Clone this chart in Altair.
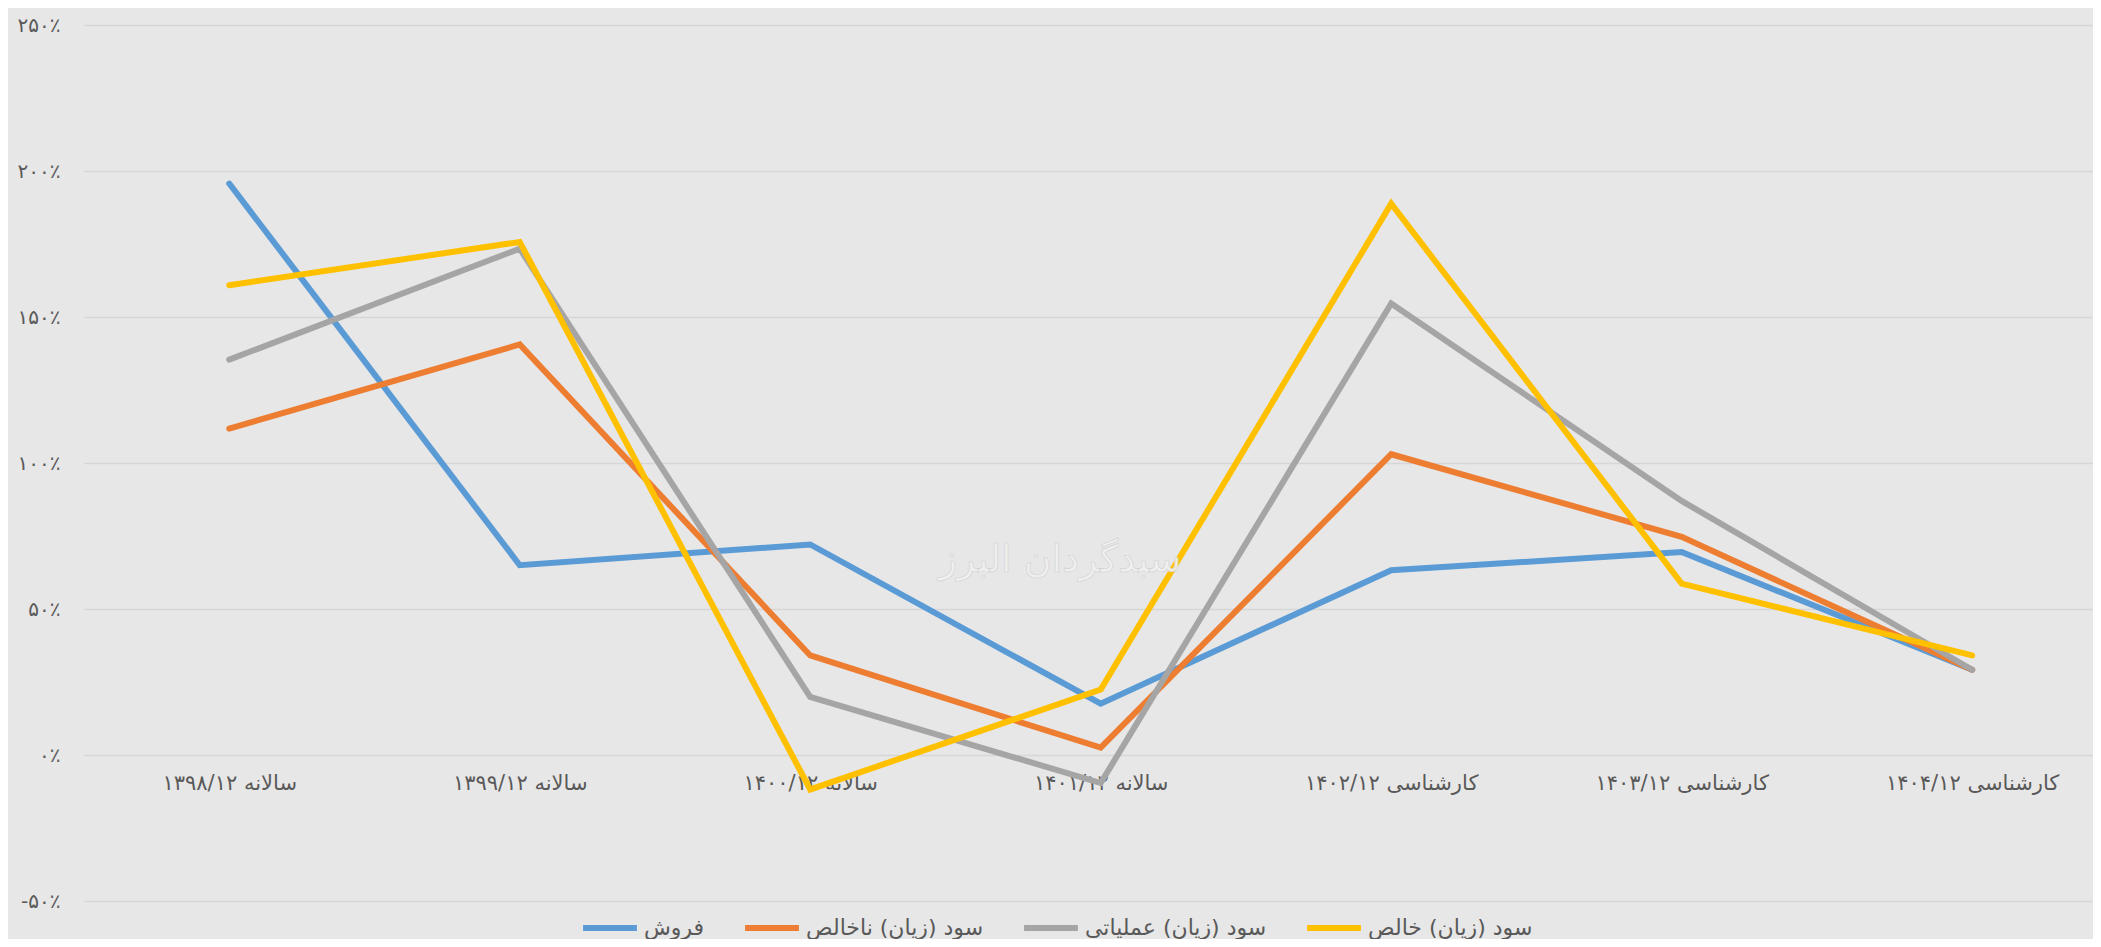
import altair as alt
import pandas as pd

categories = [
    "سالانه ۱۳۹۸/۱۲",
    "سالانه ۱۳۹۹/۱۲",
    "سالانه ۱۴۰۰/۱۲",
    "سالانه ۱۴۰۱/۱۲",
    "کارشناسی ۱۴۰۲/۱۲",
    "کارشناسی ۱۴۰۳/۱۲",
    "کارشناسی ۱۴۰۴/۱۲",
]
series_names = ["فروش", "سود (زیان) ناخالص", "سود (زیان) عملیاتی", "سود (زیان) خالص"]
series_colors = ["#5B9BD5", "#ED7D31", "#A5A5A5", "#FFC000"]

sales = [195.7, 65.0, 72.1, 17.6, 63.3, 69.5, 29.2]
gross_profit = [111.8, 140.6, 34.1, 2.5, 103.0, 74.7, 29.2]
operating_profit = [135.4, 173.4, 19.9, -9.6, 154.6, 87.0, 29.2]
net_profit = [160.9, 175.7, -11.8, 22.4, 188.8, 58.7, 34.1]

y_tick_values = [-50, 0, 50, 100, 150, 200, 250]
y_tick_labels = ["-۵۰٪", "۰٪", "۵۰٪", "۱۰۰٪", "۱۵۰٪", "۲۰۰٪", "۲۵۰٪"]

watermark_text = "سبدگردان البرز"
watermark_pos = (2.86, 66.5)

FONT = "DejaVu Sans"
TEXT_COLOR = "#595959"

rows = []
for name, vals in zip(series_names, [sales, gross_profit, operating_profit, net_profit]):
    for i, v in enumerate(vals):
        rows.append({"idx": i, "category": categories[i], "series": name, "value": v})
df = pd.DataFrame(rows)

x_label_expr = "[" + ",".join("'" + c + "'" for c in categories) + "][datum.value]"
y_label_expr = ""
for v, lab in zip(y_tick_values, y_tick_labels):
    y_label_expr += f"datum.value == {v} ? '{lab}' : "
y_label_expr += "''"

x_scale = alt.Scale(domain=[-0.5, 6.416], nice=False, zero=False)
y_scale = alt.Scale(domain=[-50, 250], nice=False, zero=False)

color = alt.Color(
    "series:N",
    scale=alt.Scale(domain=series_names, range=series_colors),
    sort=series_names,
    legend=alt.Legend(
        title=None,
        orient="none",
        legendX=496,
        legendY=873,
        direction="horizontal",
        symbolType="stroke",
        symbolSize=2900,
        symbolStrokeWidth=6,
        labelFont=FONT,
        labelFontSize=22,
        labelColor=TEXT_COLOR,
        labelLimit=500,
        labelOffset=4,
        columnPadding=28,
    ),
)

base = alt.Chart(df).encode(
    x=alt.X(
        "idx:Q",
        scale=x_scale,
        axis=alt.Axis(
            title=None,
            values=list(range(len(categories))),
            labelExpr=x_label_expr,
            grid=False,
            domain=False,
            ticks=False,
            tickSize=0,
            offset=-146,
            labelPadding=28,
            labelBaseline="middle",
            labelFont=FONT,
            labelFontSize=21,
            labelColor=TEXT_COLOR,
        ),
    ),
    y=alt.Y(
        "value:Q",
        scale=y_scale,
        axis=alt.Axis(
            title=None,
            values=y_tick_values,
            labelExpr=y_label_expr,
            grid=True,
            gridColor="#d6d6d6",
            gridWidth=1.5,
            domain=False,
            ticks=False,
            tickSize=0,
            labelPadding=24,
            labelFont=FONT,
            labelFontSize=20,
            labelColor=TEXT_COLOR,
        ),
    ),
    color=color,
)

layers = []
for name in series_names:
    layers.append(
        base.transform_filter(alt.datum.series == name).mark_line(
            strokeWidth=6, strokeCap="round", strokeJoin="miter"
        )
    )

wm_df = pd.DataFrame({"x": [watermark_pos[0]], "y": [watermark_pos[1]], "t": [watermark_text]})
watermark = alt.Chart(wm_df).mark_text(
    font=FONT,
    fontSize=38,
    color="#f0f0f0",
    stroke="#d0d0d0",
    strokeWidth=0.6,
    opacity=0.9,
).encode(
    x=alt.X("x:Q", scale=x_scale),
    y=alt.Y("y:Q", scale=y_scale),
    text="t:N",
)

chart = alt.layer(*layers, watermark).properties(
    width=2009,
    height=876,
    autosize=alt.AutoSizeParams(type="none"),
    padding={"left": 76, "top": 17, "right": 0, "bottom": 38},
    background="#e7e7e7",
).configure_view(stroke=None)

chart.save("out.html", embed_options={"renderer": "svg", "actions": False})
